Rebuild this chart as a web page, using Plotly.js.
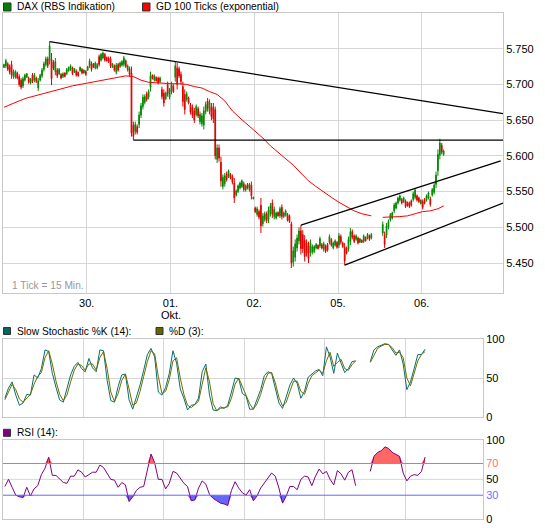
<!DOCTYPE html>
<html><head><meta charset="utf-8">
<script src="https://cdn.plot.ly/plotly-3.0.1.min.js"></script>
<style>html,body{margin:0;padding:0;background:#fff;}#chart{width:545px;height:528px;}</style>
</head><body><div id="chart"></div>
<script>
// ---------- data ----------
const BARS_PER_DAY = 44;            // 15-min ticks per trading day
const IND_STEP = 2;                  // indicator samples: one every 2 ticks
const dayTicks = [1, 2, 3, 4, 5];
const dayLabels = ['30.', '01.', '02.', '05.', '06.'];
const monthLabel = 'Okt.';
const priceTicks = [5450, 5500, 5550, 5600, 5650, 5700, 5750];
const N = null;

const open = [
 5724,5726,5729,5725,5728,5711,5710,5716,5711,5706,5698,5706,5710,5709,5702,5713,5706,5709,5695,5706,5712,5721,5728,5736,5734,5735,5731,5718,5720,5715,5714,5711,5716,5715,5719,5721,5723,5717,5719,5717,5719,5721,5716,5718,
 5720,5726,5729,5729,5723,5723,5739,5734,5737,5742,5738,5737,5736,5724,5726,5717,5728,5725,5727,5728,5733,5720,5722,5716,5643,5634,5641,5644,5657,5669,5675,5687,5682,5696,5713,5706,5710,5709,5704,5693,5688,5680,5700,5682,
 5690,5698,5710,5723,5722,5714,5697,5686,5679,5681,5671,5668,5663,5658,5666,5648,5645,5643,5662,5677,5662,5669,5668,5665,5595,5611,5591,5557,5561,5575,5571,5574,5571,5562,5545,5550,5555,5557,5561,5552,5560,5552,5559,5540,
 5527,5518,5522,5531,5505,5511,5519,5511,5519,5534,5515,5513,5521,5516,5528,5515,5517,5518,5516,5505,5451,5458,5471,5481,5495,5490,5482,5478,5474,5464,5465,5466,5471,5475,5474,5476,5469,5474,5476,5479,5483,5471,5475,5479,
 5475,5487,5478,5472,5471,5470,5480,5494,5488,5483,5485,5479,5482,5480,5486,5485,5488,5485,N,N,N,N,N,5492,5489,5489,5500,5510,5513,5523,5527,5534,5538,5539,5536,5537,5535,5534,5537,5539,5542,5544,5541,5533,
 5536,5539,5538,5541,5540,5545,5549,5560,5579,5601,5615,5602
];
const high = [
 5729,5736,5731,5728,5733,5721,5720,5718,5714,5709,5711,5715,5716,5711,5709,5716,5716,5711,5709,5715,5723,5732,5739,5739,5760,5744,5734,5737,5723,5723,5716,5717,5717,5723,5725,5728,5725,5723,5721,5718,5725,5723,5721,5720,
 5726,5736,5732,5730,5732,5730,5742,5744,5746,5744,5739,5739,5739,5730,5728,5730,5730,5732,5734,5740,5735,5728,5725,5725,5648,5648,5644,5662,5674,5686,5686,5690,5693,5718,5714,5714,5711,5711,5711,5697,5693,5690,5704,5695,
 5704,5700,5732,5730,5725,5718,5704,5693,5690,5683,5674,5672,5667,5672,5669,5662,5660,5669,5676,5681,5679,5674,5674,5669,5616,5616,5599,5574,5576,5578,5581,5576,5574,5569,5553,5560,5564,5567,5564,5560,5562,5562,5564,5543,
 5529,5529,5525,5541,5520,5522,5522,5529,5534,5539,5529,5522,5522,5529,5532,5522,5525,5520,5518,5508,5473,5483,5490,5500,5503,5496,5489,5483,5480,5483,5476,5475,5478,5476,5487,5478,5480,5476,5478,5490,5485,5480,5483,5481,
 5492,5490,5480,5478,5473,5487,5499,5497,5490,5490,5487,5485,5483,5490,5487,5492,5490,5492,N,N,N,N,N,5508,5494,5506,5511,5520,5522,5534,5536,5543,5546,5541,5543,5539,5536,5536,5539,5550,5555,5546,5543,5539,
 5539,5541,5546,5550,5543,5555,5562,5578,5609,5624,5618,5609
];
const low = [
 5723,5723,5719,5714,5708,5708,5708,5707,5697,5693,5695,5704,5709,5701,5700,5702,5703,5702,5691,5704,5709,5718,5725,5723,5728,5699,5720,5713,5709,5713,5707,5709,5710,5713,5718,5719,5713,5716,5711,5711,5718,5714,5715,5712,
 5719,5723,5718,5723,5721,5721,5725,5732,5735,5732,5732,5730,5723,5723,5718,5714,5718,5723,5725,5725,5723,5718,5711,5627,5622,5630,5630,5639,5653,5665,5672,5676,5679,5690,5707,5704,5704,5700,5702,5679,5669,5678,5683,5679,
 5686,5688,5704,5693,5709,5700,5669,5658,5676,5672,5658,5653,5646,5655,5653,5644,5641,5637,5658,5662,5658,5650,5646,5595,5590,5592,5557,5553,5557,5564,5569,5567,5560,5534,5543,5548,5553,5555,5550,5550,5553,5550,5539,5539,
 5520,5515,5511,5492,5501,5508,5506,5506,5515,5513,5511,5511,5515,5513,5511,5513,5515,5508,5506,5443,5445,5452,5466,5476,5462,5464,5452,5459,5450,5459,5462,5464,5469,5469,5471,5469,5466,5464,5466,5476,5473,5469,5473,5470,
 5471,5476,5471,5447,5462,5466,5475,5483,5478,5481,5476,5478,5478,5478,5480,5483,5481,5483,N,N,N,N,N,5488,5471,5485,5497,5508,5511,5520,5525,5532,5536,5532,5534,5527,5529,5527,5529,5536,5539,5536,5534,5532,
 5525,5532,5536,5539,5529,5543,5546,5555,5572,5595,5602,5600
];
const close = [
 5728,5733,5721,5717,5713,5718,5718,5709,5700,5696,5708,5713,5715,5703,5707,5705,5713,5704,5705,5713,5720,5729,5736,5726,5754,5708,5723,5732,5712,5721,5709,5715,5711,5721,5724,5726,5715,5722,5713,5712,5724,5716,5720,5714,
 5725,5733,5721,5724,5730,5728,5728,5742,5744,5734,5733,5732,5726,5729,5720,5727,5720,5730,5732,5737,5725,5726,5714,5632,5627,5644,5633,5657,5670,5682,5683,5679,5690,5712,5708,5712,5705,5702,5709,5683,5674,5688,5687,5692,
 5700,5690,5726,5700,5712,5704,5676,5665,5687,5674,5661,5657,5650,5669,5656,5658,5656,5663,5672,5666,5675,5655,5652,5600,5611,5597,5565,5570,5572,5567,5579,5569,5563,5541,5551,5558,5562,5565,5553,5558,5555,5560,5544,5542,
 5522,5526,5514,5502,5516,5519,5509,5524,5530,5518,5525,5520,5516,5526,5515,5520,5523,5510,5508,5450,5467,5477,5485,5495,5470,5470,5459,5464,5456,5478,5473,5473,5476,5470,5484,5471,5477,5466,5468,5487,5475,5478,5481,5472,
 5488,5479,5473,5453,5464,5483,5494,5486,5480,5488,5478,5484,5479,5488,5481,5490,5483,5490,N,N,N,N,N,5504,5476,5502,5508,5518,5520,5531,5534,5541,5544,5534,5541,5529,5530,5529,5531,5547,5552,5538,5536,5538,
 5528,5534,5544,5548,5532,5553,5559,5573,5602,5618,5605,5607
];

// GD 100 (exponential) read at selected ticks
const maTick = [0,4,8,12,16,20,24,28,32,36,40,44,48,52,56,60,64,68,72,76,80,84,88,92,96,100,104,108,112,116,120,124,128,132,136,140,144,148,152,156,160,164,168,172,176,180,184,188,192,193,196,199,204,208,212,216,220,224,228,231];
const maVal  = [5668,5673,5677,5681,5684,5687,5689,5692,5695,5698,5700,5702,5704,5706,5708,5710,5712,5711,5706,5703,5702,5701,5701,5701,5700,5697,5695,5690,5686,5677,5663,5653,5644,5635,5625,5614,5605,5596,5587,5576,5565,5557,5549,5542,5535,5529,5523,5519,5517,5516,N,5514,5514,5515,5516,5519,5522,5523,5526,5530];

// Slow Stochastic %K (14), %D (3), RSI (14)
const stochK = [
 24,37,45,28,15,18,29,28,54,50, 62,86,84,56,38,22,19,35,54,65, 70,62,58,75,63,58,86,85,47,21,
 19,39,54,55,22,10,24,41,60,80, 88,77,32,28,38,56,85,69,36,24, 9,15,16,24,58,68,28,9,8,13,
 11,15,32,50,49,30,27,10,10,23, 35,53,58,56,35,18,11,26,41,50, 43,24,33,51,55,59,61,53,90,77,
 56,82,69,57,62,71,72,N,N,N, 71,86,90,92,94,93,86,79,86,68, 35,45,62,80,80,87
];
const stochD = [
 22,31,42,35,23,19,24,29,42,52, 57,76,85,68,46,29,21,28,45,60, 68,66,60,68,68,60,76,84,62,32,
 20,30,47,55,36,15,18,33,52,71, 85,81,52,30,33,48,72,76,50,29, 15,12,16,20,42,63,45,17,8,11,
 12,13,24,42,50,38,28,17,10,17, 29,45,56,57,44,25,14,19,34,46, 46,33,29,43,53,57,60,56,72,83,
 65,70,74,62,60,67,72,N,N,N, 70,80,88,91,93,93,89,82,83,76, 50,40,55,72,80,84
];
const rsi = [
 41,50,40,30,28,27,40,29,38,42, 56,64,78,55,55,51,46,45,54,54, 62,59,53,56,59,59,68,65,57,50,
 49,40,46,43,22,28,36,40,41,62, 82,71,50,50,38,45,60,58,51,45, 41,23,24,39,48,44,31,26,23,20,
 19,17,36,47,39,33,30,37,23,29, 39,45,51,58,54,39,20,29,41,41, 37,50,54,53,42,54,63,57,60,50,
 43,61,57,49,59,62,42,N,N,N, 60,79,84,86,91,89,84,82,79,58, 48,54,56,55,60,78
];
const rsiUpper = 70, rsiMid = 50, rsiLower = 30;

// trend lines drawn on the chart: [startDay, startPrice, endDay, endPrice]
const trendStartDay   = [0.557, 1.557, 3.557, 4.080];
const trendStartPrice = [5760, 5622, 5503, 5447];
const trendEndDay     = [5.970, 5.970, 5.943, 5.970];
const trendEndPrice   = [5659, 5622, 5593, 5534];

// ---------- build ----------
const X_MAX = 5.97;
const barX = open.map((_, i) => (i + 0.5) / BARS_PER_DAY);
const maX = maTick.map(t => (t + 0.5) / BARS_PER_DAY);
const indX = stochK.map((_, k) => (IND_STEP * k + 1) / BARS_PER_DAY);
const nn = v => v !== null;
const rsiBase70 = rsi.map(v => nn(v) ? rsiUpper : null);
const rsiHi = rsi.map(v => nn(v) ? Math.max(v, rsiUpper) : null);
const rsiBase30 = rsi.map(v => nn(v) ? rsiLower : null);
const rsiLo = rsi.map(v => nn(v) ? Math.min(v, rsiLower) : null);

const GREEN = '#008a00', RED = '#e00000';
const traces = [
 {type:'candlestick', x:barX, open, high, low, close, xaxis:'x', yaxis:'y',
  increasing:{line:{color:GREEN, width:1}, fillcolor:GREEN},
  decreasing:{line:{color:RED, width:1}, fillcolor:RED},
  whiskerwidth:0, hoverinfo:'none'},
 {type:'scatter', mode:'lines', x:maX, y:maVal, xaxis:'x', yaxis:'y',
  line:{color:'#ff0000', width:1}, connectgaps:false, hoverinfo:'none'},
 {type:'scatter', mode:'lines', x:indX, y:stochK, xaxis:'x2', yaxis:'y2',
  line:{color:'#0a6e6e', width:1}, connectgaps:false, hoverinfo:'none'},
 {type:'scatter', mode:'lines', x:indX, y:stochD, xaxis:'x2', yaxis:'y2',
  line:{color:'#6e6e00', width:1}, connectgaps:false, hoverinfo:'none'},
 {type:'scatter', mode:'lines', x:indX, y:rsiBase70, xaxis:'x3', yaxis:'y3',
  line:{width:0, color:'rgba(0,0,0,0)'}, hoverinfo:'none'},
 {type:'scatter', mode:'lines', x:indX, y:rsiHi, xaxis:'x3', yaxis:'y3', fill:'tonexty',
  fillcolor:'#ff6666', line:{width:0, color:'rgba(0,0,0,0)'}, hoverinfo:'none'},
 {type:'scatter', mode:'lines', x:indX, y:rsiBase30, xaxis:'x3', yaxis:'y3',
  line:{width:0, color:'rgba(0,0,0,0)'}, hoverinfo:'none'},
 {type:'scatter', mode:'lines', x:indX, y:rsiLo, xaxis:'x3', yaxis:'y3', fill:'tonexty',
  fillcolor:'#6666ff', line:{width:0, color:'rgba(0,0,0,0)'}, hoverinfo:'none'},
 {type:'scatter', mode:'lines', x:indX, y:rsi, xaxis:'x3', yaxis:'y3',
  line:{color:'#800080', width:1}, connectgaps:false, hoverinfo:'none'}
];

const GRID = '#d6d6d6', BORDER = '#c8c8c8';
const FONT = 'Liberation Sans, Arial, sans-serif';
const TXT = 10.2;
const xBase = {range:[0, X_MAX], tickvals:dayTicks, ticktext:dayLabels, ticks:'',
  showgrid:true, gridcolor:GRID, gridwidth:1, showline:true, mirror:true, linecolor:BORDER,
  zeroline:false, fixedrange:true, rangeslider:{visible:false}};
const yBase = {side:'right', ticks:'', showgrid:true, gridcolor:GRID, showline:true, mirror:true,
  linecolor:BORDER, zeroline:false, fixedrange:true, tickfont:{size:11, family:FONT}};

const shapes = [];
for (let i = 0; i < trendStartDay.length; i++) {
  shapes.push({type:'line', xref:'x', yref:'y', x0:trendStartDay[i], y0:trendStartPrice[i],
    x1:trendEndDay[i], y1:trendEndPrice[i], line:{color:'#000', width:1.3}});
}
shapes.push({type:'line', xref:'x3', yref:'y3', x0:0, x1:X_MAX, y0:rsiMid, y1:rsiMid, layer:'below', line:{color:GRID, width:1}});
shapes.push({type:'line', xref:'x3', yref:'y3', x0:0, x1:X_MAX, y0:rsiUpper, y1:rsiUpper, layer:'above', line:{color:'#ff6666', width:1}});
shapes.push({type:'line', xref:'x3', yref:'y3', x0:0, x1:X_MAX, y0:rsiLower, y1:rsiLower, layer:'above', line:{color:'#6666ff', width:1}});
// legend swatches (paper coords)
const sw = (x0, x1, y0, y1, c) => ({type:'rect', xref:'paper', yref:'paper', x0, x1, y0, y1,
  fillcolor:c, line:{color:'#333', width:1}});
shapes.push(sw(0.001, 0.016, 1.004, 1.0198, '#008000'));
shapes.push(sw(0.279, 0.294, 1.004, 1.0198, '#ff0000'));
shapes.push(sw(0.001, 0.015, 0.3646, 0.3785, '#006666'));
shapes.push(sw(0.306, 0.320, 0.3646, 0.3785, '#666600'));
shapes.push(sw(0.001, 0.015, 0.1634, 0.1773, '#800080'));

const ann = (x, y, text, extra) => Object.assign({xref:'paper', yref:'paper', x, y, text,
  showarrow:false, xanchor:'left', yanchor:'middle', font:{size:TXT, color:'#000', family:FONT}}, extra || {});
const annotations = [
  ann(0.024, 1.0119, 'DAX (RBS Indikation)'),
  ann(0.302, 1.0119, 'GD 100 Ticks (exponential)'),
  ann(0.024, 0.3715, 'Slow Stochastic %K (14):'),
  ann(0.327, 0.3715, '%D (3):'),
  ann(0.024, 0.170, 'RSI (14):'),
  ann(0.014, 0.4605, '1 Tick = 15 Min.', {font:{size:TXT, color:'#999', family:FONT}}),
  {xref:'x', yref:'paper', x:dayTicks[1], y:0.404, text:monthLabel, showarrow:false,
   xanchor:'center', yanchor:'middle', font:{size:11, color:'#000', family:FONT}}
];

const layout = {
  width:545, height:528,
  margin:{l:3, r:42, t:13, b:9, pad:0},
  paper_bgcolor:'#fff', plot_bgcolor:'#fff',
  font:{family:FONT, size:11, color:'#000'},
  separators:',.',
  showlegend:false,
  boxgap:0.45,
  xaxis: Object.assign({}, xBase, {domain:[0,1], anchor:'y', showticklabels:true, tickfont:{size:11, family:FONT}}),
  yaxis: Object.assign({}, yBase, {domain:[0.4466,1], anchor:'x', range:[5408,5800], tickvals:priceTicks, tickformat:',d'}),
  xaxis2: Object.assign({}, xBase, {domain:[0,0.96], anchor:'y2', showticklabels:false}),
  yaxis2: Object.assign({}, yBase, {domain:[0.2016,0.3557], anchor:'x2', range:[0,100], tickvals:[0,50,100]}),
  xaxis3: Object.assign({}, xBase, {domain:[0,0.96], anchor:'y3', showticklabels:false}),
  yaxis3: Object.assign({}, yBase, {domain:[0,0.1567], anchor:'x3', range:[0,100], showgrid:false,
    tickvals:[0,30,50,70,100],
    ticktext:['0','<span style="color:#6f6fff">30</span>','50','<span style="color:#ff6f6f">70</span>','100']}),
  shapes, annotations
};

Plotly.newPlot('chart', traces, layout, {staticPlot:true, displayModeBar:false});
</script></body></html>
